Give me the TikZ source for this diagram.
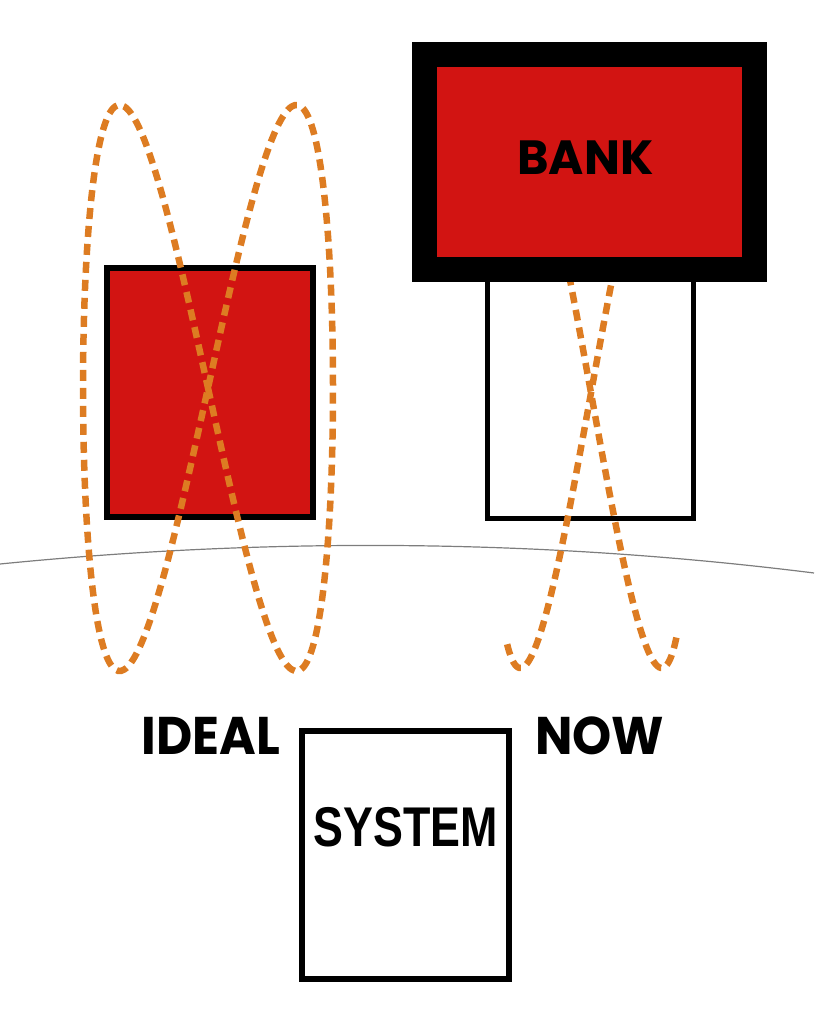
\documentclass[tikz,border=0pt]{standalone}
\usepackage{fontspec}
\usepackage{tikz}
\usetikzlibrary{positioning}
\newfontfamily\geoFont{Poppins}
\newfontfamily\sysFont{Liberation Sans}
\definecolor{bankRed}{RGB}{210,20,18}
\definecolor{loopOrange}{RGB}{221,124,34}
\definecolor{horizonGray}{RGB}{125,125,125}

\begin{document}
\begin{tikzpicture}[x=1pt,y=-1pt]

            \tikzstyle{redBox} = [draw=black, fill=bankRed, line width=6pt, inner sep=0pt, minimum width=206pt, minimum height=249pt];
            \tikzstyle{emptyBox} = [draw=black, line width=5.5pt, inner sep=0pt, minimum width=206pt, minimum height=248pt];
            \tikzstyle{bankBox} = [draw=black, fill=bankRed, line width=25pt, inner sep=0pt, minimum width=330pt, minimum height=215pt];
            \tikzstyle{loopLine} = [loopOrange, line width=6.5pt, dash pattern=on 11pt off 7pt];
            \tikzstyle{horizonLine} = [horizonGray, line width=1.2pt];
            \tikzstyle{geoWord} = [inner sep=0pt, xscale=0.94, font=\geoFont\bfseries\fontsize{53}{60}\selectfont];
            \tikzstyle{sysWord} = [inner sep=0pt, xscale=0.8, font=\sysFont\bfseries\fontsize{56}{62}\selectfont];

            \useasboundingbox (0,0) rectangle (814,1024);

            \draw[horizonLine] (0,564) .. controls (271,537) and (543,539) .. (814,573);

            % ideal side
            \node[redBox] (idealBox) at (210,392.5) {};
            \draw[loopLine] plot[domain=0:360, samples=181, smooth] ({208+125*sin(\x)}, {388+283*sin(2*\x)});

            % now side
            \node[emptyBox] (nowBox) at (590.5,394.5) {};
            \draw[loopLine] plot[domain=237:163, samples=60, smooth] ({591+100*sin(\x)}, {393+275*sin(2*\x)});
            \draw[loopLine] plot[domain=-17:60, samples=60, smooth] ({591+100*sin(\x)}, {393+275*sin(2*\x)});
            \node[bankBox] (bank) at (589.5,162) {};
            \node[geoWord, xscale=1.06, font=\geoFont\bfseries\fontsize{48}{54}\selectfont] (bankText) at ([xshift=-4pt, yshift=4pt]bank.center) {BANK};

            % system
            \node[emptyBox, line width=6pt, minimum width=207pt] (system) at (405.5,855) {};
            \node[sysWord] (systemText) at (406,827) {SYSTEM};
            \node[geoWord, anchor=east] (ideal) at (280,736) {IDEAL};
            \node[geoWord, anchor=west] (now) at (535,736) {NOW};
          \end{tikzpicture}
\end{document}
